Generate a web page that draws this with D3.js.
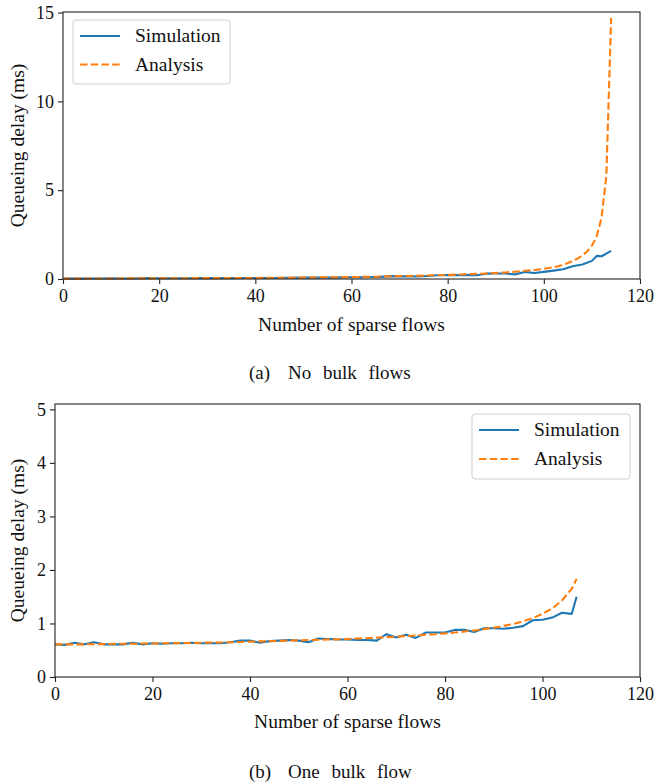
<!DOCTYPE html>
<html><head><meta charset="utf-8">
<script src="https://cdn.jsdelivr.net/npm/d3@7"></script>
<style>body{margin:0;background:#fff}svg{display:block}text{font-family:"Liberation Serif","Times New Roman",serif;fill:#111}</style>
</head><body><svg id="c" width="654" height="783"></svg>
<script>
// ---- data ----
const xTicks = [0,20,40,60,80,100,120];
const yTicksA = [0,5,10,15];
const yTicksB = [0,1,2,3,4,5];
const seriesNames = ["Simulation","Analysis"];

// (a) No bulk flows
const simAx = [0,2,4,6,8,10,12,14,16,18,20,22,24,26,28,30,32,34,36,38,40,42,44,46,48,50,52,54,56,58,60,62,64,66,68,70,72,74,76,78,80,82,84,86,88,90,92,94,96,98,100,102,104,106,108,110,111,112,114];
const simAy = [0.02,0.02,0.02,0.03,0.03,0.04,0.03,0.03,0.04,0.05,0.04,0.04,0.04,0.04,0.05,0.05,0.05,0.05,0.05,0.06,0.06,0.06,0.06,0.07,0.07,0.08,0.08,0.08,0.08,0.09,0.10,0.10,0.11,0.12,0.16,0.15,0.15,0.14,0.17,0.21,0.22,0.22,0.23,0.21,0.30,0.31,0.31,0.26,0.40,0.34,0.40,0.47,0.55,0.72,0.82,1.02,1.30,1.28,1.58];
const anaAx = [0,10,20,30,40,50,60,65,70,75,80,85,88,90,92,94,96,98,100,101,102,103,104,105,106,107,108,109,110,111,112,113,114];
const anaAy = [0.02,0.03,0.04,0.05,0.06,0.08,0.11,0.13,0.16,0.19,0.23,0.28,0.31,0.34,0.37,0.41,0.46,0.51,0.57,0.62,0.66,0.72,0.80,0.90,1.02,1.15,1.32,1.55,1.88,2.40,3.45,5.8,14.7];

// (b) One bulk flow
const simBx = [0,2,4,6,8,10,12,14,16,18,20,22,24,26,28,30,32,34,36,38,40,42,44,46,48,50,52,54,56,58,60,62,64,66,68,70,72,74,76,78,80,82,84,86,88,90,92,94,96,98,100,102,104,106,107];
const simBy = [0.61,0.60,0.64,0.61,0.65,0.61,0.61,0.61,0.64,0.61,0.63,0.62,0.63,0.63,0.64,0.63,0.63,0.63,0.65,0.68,0.68,0.64,0.67,0.68,0.69,0.68,0.65,0.72,0.71,0.70,0.70,0.69,0.69,0.68,0.80,0.74,0.79,0.73,0.83,0.83,0.83,0.88,0.88,0.84,0.91,0.91,0.90,0.92,0.95,1.06,1.07,1.11,1.20,1.18,1.50];
const anaBx = [0,2,4,6,8,10,12,14,16,18,20,22,24,26,28,30,32,34,36,38,40,42,44,46,48,50,52,54,56,58,60,62,64,66,68,70,72,74,76,78,80,82,84,86,88,90,92,94,96,98,100,102,104,106,107];
const anaBy = [0.61,0.61,0.61,0.61,0.615,0.615,0.62,0.62,0.62,0.625,0.625,0.63,0.63,0.635,0.635,0.64,0.645,0.645,0.65,0.655,0.66,0.665,0.67,0.675,0.68,0.685,0.69,0.695,0.70,0.705,0.71,0.72,0.725,0.735,0.745,0.755,0.765,0.775,0.79,0.80,0.815,0.83,0.85,0.87,0.895,0.92,0.955,0.99,1.04,1.10,1.18,1.28,1.43,1.65,1.83];

const BLUE = "#1f77b4", ORANGE = "#ff7f0e";
const svg = d3.select("#c");

function panel(o){
  const x = d3.scaleLinear().domain([0,120]).range([o.left, o.right]);
  const y = d3.scaleLinear().domain([0,o.ymax]).range([o.bottom, o.top]);
  const g = svg.append("g");
  // axes
  const ax = g.append("g").attr("transform",`translate(0,${o.bottom})`)
    .call(d3.axisBottom(x).tickValues(xTicks).tickFormat(d3.format("d")).tickSize(5).tickPadding(4));
  const ay = g.append("g").attr("transform",`translate(${o.left},0)`)
    .call(d3.axisLeft(y).tickValues(o.yTicks).tickFormat(d3.format("d")).tickSize(5).tickPadding(4));
  [ax,ay].forEach(a=>{
    a.select(".domain").remove();
    a.selectAll("line").attr("stroke","#222").attr("stroke-width",1.1);
    a.selectAll("text").style("font-size","18px").attr("fill","#111");
  });
  ax.selectAll("text").attr("dy","0.78em");
  // lines
  const line = d3.line().x(d=>x(d[0])).y(d=>y(d[1]));
  g.append("path").datum(o.sx.map((v,i)=>[v,o.sy[i]]))
    .attr("d",line).attr("fill","none").attr("stroke",BLUE).attr("stroke-width",2.1).attr("stroke-linejoin","round");
  g.append("path").datum(o.ax.map((v,i)=>[v,o.ay[i]]))
    .attr("d",line).attr("fill","none").attr("stroke",ORANGE).attr("stroke-width",2.1).attr("stroke-dasharray","7.5,3.2");
  // frame
  g.append("rect").attr("x",o.left).attr("y",o.top).attr("width",o.right-o.left).attr("height",o.bottom-o.top)
    .attr("fill","none").attr("stroke","#222").attr("stroke-width",1.1);
  // labels
  g.append("text").attr("x",(o.left+o.right)/2).attr("y",o.xlabY).attr("text-anchor","middle")
    .style("font-size","19.5px").text("Number of sparse flows");
  g.append("text").attr("transform",`translate(24,${(o.top+o.bottom)/2}) rotate(-90)`).attr("text-anchor","middle")
    .style("font-size","19.5px").text("Queueing delay (ms)");
  // legend
  const L = o.legend;
  g.append("rect").attr("x",L.x).attr("y",L.y).attr("width",L.w).attr("height",L.h).attr("rx",3)
    .attr("fill","rgba(255,255,255,0.8)").attr("stroke","#d0d0d0").attr("stroke-width",1);
  seriesNames.forEach((n,i)=>{
    const ry = L.y + L.r0 + i*L.dr;
    g.append("line").attr("x1",L.x+7).attr("x2",L.x+47).attr("y1",ry).attr("y2",ry)
      .attr("stroke",i?ORANGE:BLUE).attr("stroke-width",2.1).attr("stroke-dasharray",i?"7.5,3.2":null);
    g.append("text").attr("x",L.x+62).attr("y",ry+6).style("font-size","19.5px").text(n);
  });
  // caption
  g.append("text").attr("x",249).attr("y",o.capY).style("font-size","19px").text(o.capTag);
  g.append("text").attr("x",288).attr("y",o.capY).style("font-size","19px").style("word-spacing","7px").text(o.cap);
}

panel({left:63,right:640,top:12,bottom:279,ymax:15.03,yTicks:yTicksA,sx:simAx,sy:simAy,ax:anaAx,ay:anaAy,
  xlabY:331,legend:{x:73,y:20,w:157,h:64,r0:16,dr:28.5},capY:379,capTag:"(a)",cap:"No bulk flows"});
panel({left:55,right:640,top:404,bottom:677,ymax:5.1,yTicks:yTicksB,sx:simBx,sy:simBy,ax:anaBx,ay:anaBy,
  xlabY:728,legend:{x:472,y:414,w:158,h:65,r0:16,dr:29},capY:778,capTag:"(b)",cap:"One bulk flow"});
</script></body></html>
